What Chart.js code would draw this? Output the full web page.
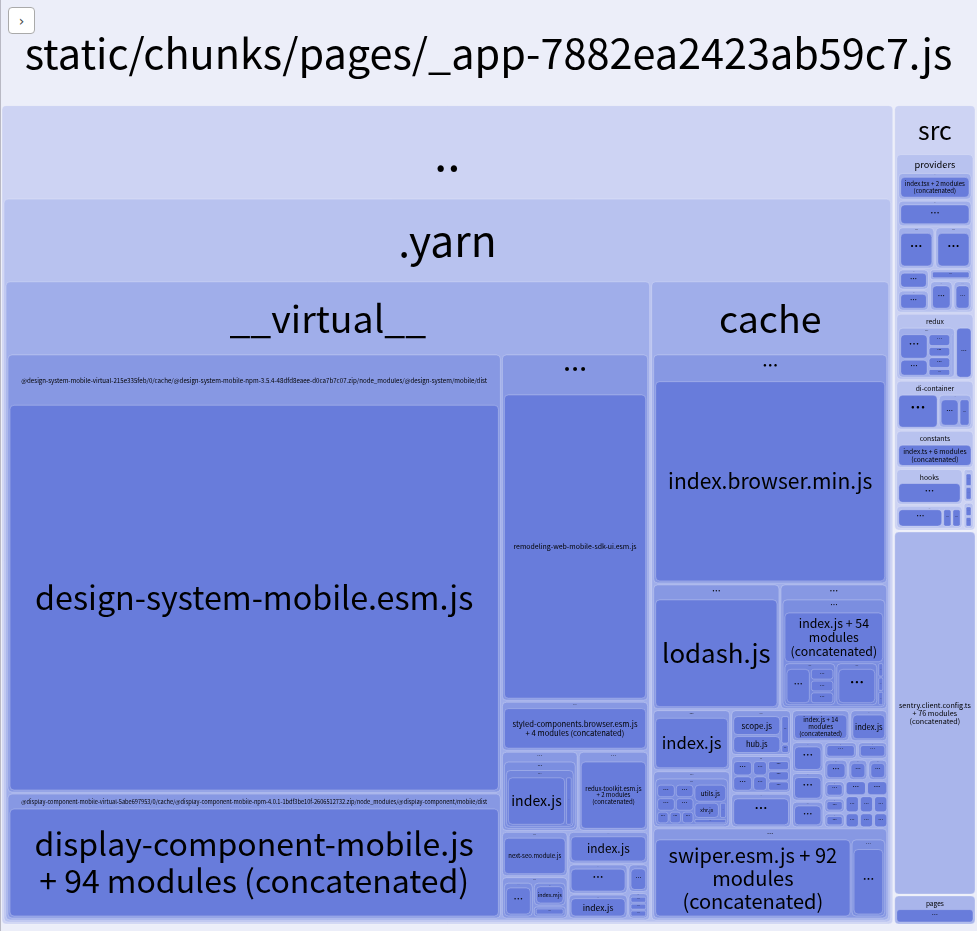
<!DOCTYPE html>
<html>
<head>
<meta charset="utf-8">
<title>_app chunk treemap</title>
<script src="https://cdn.jsdelivr.net/npm/chart.js@4.4.1/dist/chart.umd.min.js"></script>
<style>
  html, body { margin: 0; padding: 0; background: #eceef9; overflow: hidden; }
  #wrap { position: relative; width: 977px; height: 931px; }
  #edge { position: absolute; left: 0; top: 0; width: 1px; height: 931px; background: #b9b9c4; }
  #toggle {
    position: absolute; left: 8px; top: 7px; width: 27px; height: 27px;
    box-sizing: border-box; border: 1px solid #aaa; border-radius: 4px; background: #fff;
    font: 14px "DejaVu Sans", sans-serif; color: #444;
    display: flex; align-items: center; justify-content: center;
  }
</style>
</head>
<body>
<div id="wrap">
  <canvas id="treemap" width="977" height="931"></canvas>
  <div id="edge"></div>
  <div id="toggle">&#8250;</div>
</div>
<script>
// ---- data: bundle modules, [key, parent, label, size]; label null = unlabelled row/column
var chunkLabel = "static/chunks/pages/_app-7882ea2423ab59c7.js";
var E = "\u2026";

var topNodes = [
  ["dd", "root", "..", 8900],
  ["rcol", "root", null, 820],
  ["yarn", "dd", ".yarn", 1],
  ["virt", "yarn", "__virtual__", 4070],
  ["cache", "yarn", "cache", 1507],
  ["src", "rcol", "src", 327],
  ["sentry", "rcol", "sentry.client.config.ts + 76 modules (concatenated)", 279],
  ["pages", "rcol", "pages", 23],
  ["pg1", "pages", E, 1]
];

var virtualNodes = [
  ["vL", "virt", null, 2759],
  ["vR", "virt", null, 822],
  ["dsm", "vL", "@design-system-mobile-virtual-215e335feb/0/cache/@design-system-mobile-npm-3.5.4-48dfd8eaee-d0ca7b7c07.zip/node_modules/@design-system/mobile/dist", 2151],
  ["dsmjs", "dsm", "design-system-mobile.esm.js", 1],
  ["dcm", "vL", "@display-component-mobile-virtual-5abe697953/0/cache/@display-component-mobile-npm-4.0.1-1bdf3be10f-2606512732.zip/node_modules/@display-component/mobile/dist", 617],
  ["dcmjs", "dcm", "display-component-mobile.js + 94 modules (concatenated)", 1],
  ["rm", "vR", E, 507],
  ["rmjs", "rm", "remodeling-web-mobile-sdk-ui.esm.js", 1],
  ["sc", "vR", E, 73],
  ["scjs", "sc", "styled-components.browser.esm.js + 4 modules (concatenated)", 1],
  ["vRb", "vR", null, 245],
  ["vRb1", "vRb", null, 117],
  ["g1", "vRb1", E, 60],
  ["g1a", "g1", E, 1],
  ["g1b", "g1a", E, 1],
  ["ix1", "g1b", "index.js", 35],
  ["g1d", "g1b", E, 4],
  ["rtk", "vRb1", E, 55],
  ["rtkjs", "rtk", "redux-toolkit.esm.js + 2 modules (concatenated)", 1],
  ["vRb2", "vRb", null, 128],
  ["vRb2L", "vRb2", null, 58],
  ["ns", "vRb2L", E, 30],
  ["nsjs", "ns", "next-seo.module.js", 1],
  ["g2", "vRb2L", E, 28],
  ["g2a", "g2", E, 31],
  ["g2a1", "g2a", E, 1],
  ["g2b", "g2", null, 34],
  ["g2c", "g2b", E, 26],
  ["g2c1", "g2c", "index.mjs", 1],
  ["g2d", "g2b", E, 12],
  ["g2d1", "g2d", E, 1],
  ["vRb2R", "vRb2", null, 70],
  ["ix2", "vRb2R", E, 32],
  ["ix2js", "ix2", "index.js", 1],
  ["vRb2R2", "vRb2R", null, 54],
  ["vRb2R2L", "vRb2R2", null, 58],
  ["q1", "vRb2R2L", E, 29],
  ["q1a", "q1", E, 1],
  ["q2", "vRb2R2L", E, 24],
  ["q2a", "q2", "index.js", 1],
  ["vRb2R2R", "vRb2R2", null, 20],
  ["q3", "vRb2R2R", E, 28],
  ["q3a", "q3", E, 1],
  ["q4", "vRb2R2R", E, 26],
  ["q4a", "q4", E, 2], ["q4b", "q4", E, 2], ["q4c", "q4", E, 2]
];

var cacheNodes = [
  ["ibm", "cache", E, 545],
  ["ibmjs", "ibm", "index.browser.min.js", 1],
  ["cA", "cache", null, 298],
  ["lo", "cA", E, 163],
  ["lojs", "lo", "lodash.js", 1],
  ["cAR", "cA", E, 138],
  ["cAR1", "cAR", E, 1],
  ["ix54", "cAR1", "index.js + 54 modules (concatenated)", 59],
  ["cAR2", "cAR1", null, 50],
  ["cAR2a", "cAR2", E, 26],
  ["c1", "cAR2a", E, 28],
  ["c2", "cAR2a", null, 27],
  ["c2a", "c2", E, 1], ["c2b", "c2", E, 1], ["c2c", "c2", E, 1],
  ["cAR2b", "cAR2", E, 21],
  ["c3", "cAR2b", E, 1],
  ["cAR2c", "cAR2", null, 3],
  ["c4", "cAR2c", E, 1], ["c5", "cAR2c", E, 1], ["c6", "cAR2c", E, 1],
  ["cB", "cache", null, 280],
  ["cBL", "cB", null, 77],
  ["ix3", "cBL", E, 61],
  ["ix3js", "ix3", "index.js", 1],
  ["cBL2", "cBL", E, 57],
  ["cBL2a", "cBL2", E, 1],
  ["cBL2g", "cBL2a", null, 41],
  ["cg1", "cBL2g", null, 15], ["cg1a", "cg1", E, 1], ["cg1b", "cg1", E, 1],
  ["cg2", "cBL2g", null, 15], ["cg2a", "cg2", E, 1], ["cg2b", "cg2", E, 1],
  ["cg3", "cBL2g", null, 14], ["cg3a", "cg3", E, 1], ["cg3b", "cg3", E, 1], ["cg3c", "cg3", E, 1],
  ["cBL2r", "cBL2a", null, 36],
  ["utils", "cBL2r", "utils.js", 20],
  ["xhr", "cBL2r", null, 18],
  ["xhrjs", "xhr", "xhr.js", 28],
  ["xh2", "xhr", E, 8],
  ["cBL2r3", "cBL2r", E, 6],
  ["cBM", "cB", null, 60],
  ["sh", "cBM", E, 45],
  ["shL", "sh", null, 50],
  ["scope", "shL", "scope.js", 20],
  ["hub", "shL", "hub.js", 18],
  ["shR", "sh", null, 9],
  ["sh1", "shR", E, 3], ["sh2", "shR", E, 1],
  ["cBM2", "cBM", E, 37],
  ["m1", "cBM2", null, 20], ["m1a", "m1", E, 1], ["m1b", "m1", E, 1],
  ["m2", "cBM2", null, 15], ["m2a", "m2", E, 1], ["m2b", "m2", E, 1],
  ["m3", "cBM2", null, 22], ["m3a", "m3", E, 1], ["m3b", "m3", E, 1], ["m3c", "m3", E, 1],
  ["cBM3", "cBM", E, 34],
  ["cBM3a", "cBM3", E, 1],
  ["cBR", "cB", null, 95],
  ["cBR1", "cBR", null, 32],
  ["ix14", "cBR1", E, 57],
  ["ix14js", "ix14", "index.js + 14 modules (concatenated)", 1],
  ["ix4", "cBR1", E, 37],
  ["ix4js", "ix4", "index.js", 1],
  ["cBR2", "cBR", null, 86],
  ["r1", "cBR2", null, 32],
  ["r1a", "r1", E, 30], ["r1ax", "r1a", E, 1],
  ["r1b", "r1", E, 28], ["r1bx", "r1b", E, 1],
  ["r1c", "r1", E, 26], ["r1cx", "r1c", E, 1],
  ["r2", "cBR2", null, 63],
  ["r2a", "r2", null, 17],
  ["r2a1", "r2a", E, 33], ["r2a1x", "r2a1", E, 1],
  ["r2a2", "r2a", E, 30], ["r2a2x", "r2a2", E, 1],
  ["r2b", "r2", null, 21],
  ["r2b1", "r2b", E, 23], ["r2b1x", "r2b1", E, 1],
  ["r2b2", "r2b", E, 19], ["r2b2x", "r2b2", E, 1],
  ["r2b3", "r2b", E, 19], ["r2b3x", "r2b3", E, 1],
  ["r2c", "r2", null, 46],
  ["r2c1", "r2c", null, 21],
  ["r2c1a", "r2c1", E, 14], ["r2c1ax", "r2c1a", E, 1],
  ["r2c1b", "r2c1", E, 12], ["r2c1bx", "r2c1b", E, 1],
  ["r2c1c", "r2c1", E, 12], ["r2c1cx", "r2c1c", E, 1],
  ["r2c2", "r2c", null, 42],
  ["r2c2a", "r2c2", null, 14], ["r2c2a1", "r2c2a", E, 1], ["r2c2a2", "r2c2a", E, 1],
  ["r2c2b", "r2c2", null, 16], ["r2c2b1", "r2c2b", E, 1], ["r2c2b2", "r2c2b", E, 1], ["r2c2b3", "r2c2b", E, 1],
  ["r2c2c", "r2c2", null, 14], ["r2c2c1", "r2c2c", E, 1], ["r2c2c2", "r2c2c", E, 1], ["r2c2c3", "r2c2c", E, 1],
  ["sw", "cache", E, 216],
  ["swjs", "sw", "swiper.esm.js + 92 modules (concatenated)", 198],
  ["swR", "sw", E, 35],
  ["swRx", "swR", E, 1]
];

var srcNodes = [
  ["prov", "src", "providers", 150],
  ["p1", "prov", E, 25], ["p1js", "p1", "index.tsx + 2 modules (concatenated)", 1],
  ["p2", "prov", E, 24], ["p2x", "p2", E, 1],
  ["p3", "prov", null, 38],
  ["p3a", "p3", E, 34], ["p3ax", "p3a", E, 1],
  ["p3b", "p3", E, 34], ["p3bx", "p3b", E, 1],
  ["p4", "prov", null, 38],
  ["p4L", "p4", null, 29],
  ["p4La", "p4L", E, 18], ["p4Lax", "p4La", E, 1],
  ["p4Lb", "p4L", E, 18], ["p4Lbx", "p4Lb", E, 1],
  ["p4R", "p4", null, 39],
  ["p4Ra", "p4R", E, 10], ["p4Rax", "p4Ra", E, 1],
  ["p4Rb", "p4R", null, 26],
  ["p4Rb1", "p4Rb", E, 20], ["p4Rb1x", "p4Rb1", E, 1],
  ["p4Rb2", "p4Rb", E, 16], ["p4Rb2x", "p4Rb2", E, 1],
  ["redux", "src", "redux", 63],
  ["rdL", "redux", E, 53],
  ["rdL1", "rdL", null, 29], ["rdL1a", "rdL1", E, 24], ["rdL1b", "rdL1", E, 16],
  ["rdL2", "rdL", null, 23], ["rdL2a", "rdL2", E, 10], ["rdL2b", "rdL2", E, 8], ["rdL2c", "rdL2", E, 9], ["rdL2d", "rdL2", E, 6],
  ["rdL3", "rdL", E, 3],
  ["rdR", "redux", E, 15],
  ["di", "src", "di-container", 47],
  ["diA", "di", E, 37],
  ["diB", "di", E, 31], ["diB1", "diB", E, 19], ["diB2", "diB", E, 11],
  ["const", "src", "constants", 36],
  ["constjs", "const", "index.ts + 6 modules (concatenated)", 1],
  ["hk", "src", null, 57],
  ["hkL", "hk", null, 62],
  ["hooks", "hkL", "hooks", 34], ["hooksx", "hooks", E, 1],
  ["srcx", "hkL", E, 22],
  ["srcx1", "srcx", E, 44], ["srcx2", "srcx", E, 9], ["srcx3", "srcx", E, 9],
  ["hkR", "hk", null, 10],
  ["hkR1", "hkR", E, 30], ["hkR1a", "hkR1", E, 1], ["hkR1b", "hkR1", E, 1],
  ["hkR2", "hkR", E, 24], ["hkR2a", "hkR2", E, 1], ["hkR2b", "hkR2", E, 1]
];

// ---- layout / style
var verticalStacks = ["g2b", "vRb2R2L", "cAR1", "shL", "p4R", "hkL"];
var mutedNodes = ["sentry", "pages"];
var groupShades = ["#eceef9", "#cdd3f3", "#b8c2ef", "#a0aeea", "#8798e3", "#7b8ee0", "#7487dd", "#6f83dc"];
var leafShade = "#687cdb";
var mutedShade = "#a9b5eb";
var FONT = '"Noto Sans CJK KR", "Noto Sans", sans-serif';
var BAND = 0.113;
var NAMED_BAND_MIN = 13;
var LINE_H = 1.15;

function buildTree() {
  var map = { root: { key: "root", label: chunkLabel, size: 1, children: [] } };
  var lists = [topNodes, virtualNodes, cacheNodes, srcNodes];
  lists.forEach(function (list) {
    list.forEach(function (n) {
      map[n[0]] = { key: n[0], label: n[2], size: n[3], children: [] };
    });
  });
  lists.forEach(function (list) {
    list.forEach(function (n) {
      map[n[1]].children.push(map[n[0]]);
    });
  });
  return map.root;
}

function bandHeight(node, b) {
  if (!node.children.length) return 0;
  var band = b.h * BAND;
  if (node.label !== E) band = Math.max(band, Math.min(NAMED_BAND_MIN, b.h * 0.45));
  return band;
}

function layout(node, r, depth, out) {
  var content = r;
  var nextDepth = depth;
  if (node.label !== null) {
    var b = { x: r.x + 1, y: r.y + 1, w: r.w - 2, h: r.h - 2 };
    var band = bandHeight(node, b);
    out.push({ node: node, r: b, depth: depth, band: band });
    if (!node.children.length) return;
    content = { x: b.x + 1, y: b.y + band, w: b.w - 2, h: b.h - band - 1 };
    nextDepth = depth + 1;
  }
  var total = node.children.reduce(function (s, c) { return s + c.size; }, 0);
  var horiz = verticalStacks.indexOf(node.key) < 0 && content.w >= content.h;
  var off = 0;
  node.children.forEach(function (c) {
    var f = c.size / total;
    if (horiz) {
      layout(c, { x: content.x + off, y: content.y, w: content.w * f, h: content.h }, nextDepth, out);
      off += content.w * f;
    } else {
      layout(c, { x: content.x, y: content.y + off, w: content.w, h: content.h * f }, nextDepth, out);
      off += content.h * f;
    }
  });
}

function roundBox(ctx, r, fill) {
  if (r.w <= 0 || r.h <= 0) return;
  var rad = Math.max(0, Math.min(4, r.w / 4, r.h / 4));
  ctx.beginPath();
  ctx.roundRect(r.x, r.y, r.w, r.h, rad);
  ctx.fillStyle = fill;
  ctx.fill();
  ctx.strokeStyle = "rgba(255,255,255,0.25)";
  ctx.lineWidth = 1;
  ctx.stroke();
}

function unitWidth(ctx, s) {
  ctx.font = "100px " + FONT;
  return ctx.measureText(s).width / 100;
}

function drawDots(ctx, cx, cy, size) {
  ctx.font = "bold " + size + "px " + FONT;
  ctx.textBaseline = "alphabetic";
  ctx.fillText(E, cx, cy + size * 0.12);
}

function drawGroupLabel(ctx, it) {
  var r = it.r, band = it.band, label = it.node.label;
  var cx = r.x + r.w / 2, cy = r.y + band / 2 + 1;
  if (label === E) {
    drawDots(ctx, cx, cy, Math.min(band * 0.62, r.w * 0.3, 26));
    return;
  }
  var size = Math.min(band * 0.52, (r.w * 0.95) / unitWidth(ctx, label));
  ctx.font = size + "px " + FONT;
  ctx.textBaseline = "middle";
  ctx.fillText(label, cx, cy);
}

function fitLeaf(ctx, label, w, h) {
  var words = label.split(" ");
  var ww = words.map(function (s) { return unitWidth(ctx, s); });
  var sp = unitWidth(ctx, " ");
  var maxW = w * 0.9, maxH = h * 0.92;
  for (var size = Math.min(0.28 * Math.sqrt(w * h), 60); size >= 3; size -= 0.25) {
    var lines = [], cur = [], curW = 0, ok = true;
    for (var i = 0; i < words.length; i++) {
      var wi = ww[i] * size;
      if (wi > maxW) { ok = false; break; }
      if (cur.length && curW + sp * size + wi > maxW) {
        lines.push(cur.join(" "));
        cur = [words[i]];
        curW = wi;
      } else {
        curW += (cur.length ? sp * size : 0) + wi;
        cur.push(words[i]);
      }
    }
    if (!ok) continue;
    lines.push(cur.join(" "));
    if (lines.length * size * LINE_H <= maxH) return { size: size, lines: lines };
  }
  return null;
}

function drawLeafLabel(ctx, it) {
  var r = it.r, label = it.node.label;
  var cx = r.x + r.w / 2, cy = r.y + r.h / 2;
  var fit = label === E ? null : fitLeaf(ctx, label, r.w, r.h);
  if (!fit) {
    drawDots(ctx, cx, cy, Math.min(r.h * 0.5, r.w * 0.4, 20));
    return;
  }
  ctx.font = fit.size + "px " + FONT;
  ctx.textBaseline = "middle";
  var lh = fit.size * LINE_H;
  var y0 = cy - ((fit.lines.length - 1) * lh) / 2;
  fit.lines.forEach(function (line, i) {
    ctx.fillText(line, cx, y0 + i * lh);
  });
}

var treemapPlugin = {
  id: "bundleTreemap",
  afterDatasetsDraw: function (chart) {
    var ctx = chart.ctx;
    var xs = chart.scales.x, ys = chart.scales.y;
    var x0 = xs.getPixelForValue(0), x1 = xs.getPixelForValue(1);
    var y0 = ys.getPixelForValue(0), y1 = ys.getPixelForValue(1);
    var items = [];
    layout(buildTree(), { x: x0 - 1, y: y0 - 1, w: x1 - x0 + 2, h: y1 - y0 + 2 }, 0, items);
    ctx.save();
    ctx.textAlign = "center";
    items.forEach(function (it) {
      var leaf = !it.node.children.length;
      var fill;
      if (mutedNodes.indexOf(it.node.key) >= 0) fill = mutedShade;
      else if (leaf) fill = leafShade;
      else fill = groupShades[Math.min(it.depth, groupShades.length - 1)];
      if (it.depth === 0) {
        ctx.fillStyle = fill;
        ctx.fillRect(it.r.x, it.r.y, it.r.w, it.r.h);
      } else {
        roundBox(ctx, it.r, fill);
      }
      ctx.fillStyle = "#000";
      if (leaf) drawLeafLabel(ctx, it);
      else drawGroupLabel(ctx, it);
    });
    ctx.restore();
  }
};

function init() {
  new Chart(document.getElementById("treemap"), {
    type: "scatter",
    data: { datasets: [{ data: [] }] },
    options: {
      responsive: false,
      animation: false,
      events: [],
      layout: { padding: { bottom: 5 } },
      plugins: { legend: { display: false }, tooltip: { enabled: false } },
      scales: {
        x: { type: "linear", min: 0, max: 1, display: false },
        y: { type: "linear", min: 0, max: 1, reverse: true, display: false }
      }
    },
    plugins: [treemapPlugin]
  });
}

if (document.fonts && document.fonts.load) {
  document.fonts.load('20px "Noto Sans CJK KR"').then(init, init);
} else {
  init();
}
</script>
</body>
</html>
